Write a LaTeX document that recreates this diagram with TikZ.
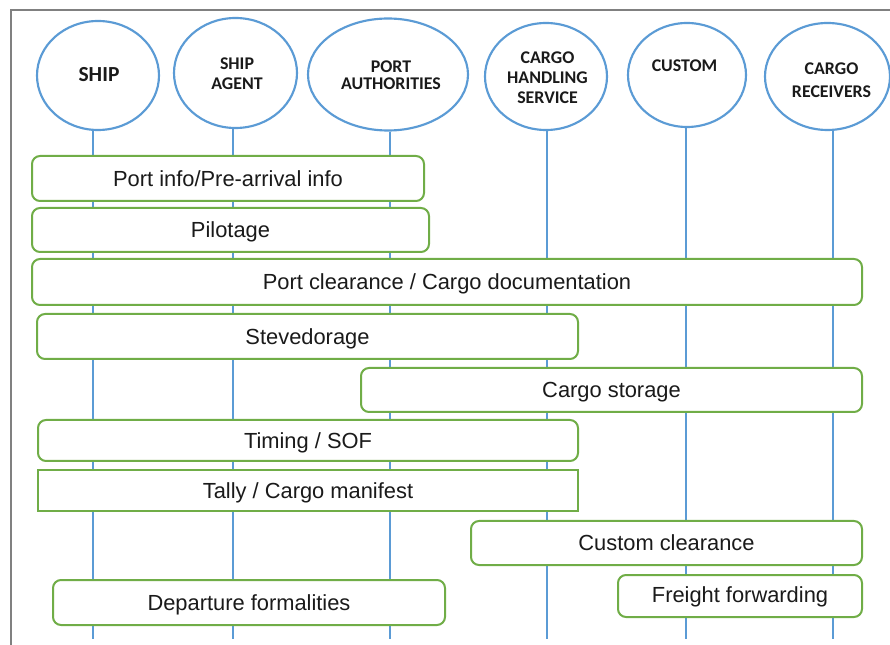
\documentclass[tikz,border=0pt]{standalone}
\usepackage{fontspec}
\setmainfont{Liberation Sans}
\newfontfamily\headfont{Carlito}
\usetikzlibrary{shapes.geometric}
\definecolor{laneblue}{HTML}{5B9BD5}
\definecolor{boxgreen}{HTML}{70AD47}
\definecolor{framegray}{HTML}{808080}
\definecolor{inkblack}{HTML}{1A1A1A}

\begin{document}
\begin{tikzpicture}[x=0.75pt,y=-0.75pt,
  actor/.style={draw=laneblue, line width=1.6pt, ellipse, inner sep=0pt, fill=white},
  actorlabel/.style={font=\headfont\bfseries\fontsize{13.4}{14.6}\selectfont,
    align=center, inner sep=0pt, text=inkblack},
  lane/.style={draw=laneblue, line width=2.2pt},
  task/.style={draw=boxgreen, line width=1.5pt, rounded corners=6pt, fill=white,
    font=\fontsize{16.4}{19}\selectfont, text=inkblack, inner sep=0pt,
    text height=11.8pt, text depth=0pt},
]
\useasboundingbox (0,0) rectangle (890,645);

% frame
\draw[framegray, line width=1.1pt] (11,645) -- (11,10) -- (890,10);

% actors
\node[actor, minimum width=91.5pt, minimum height=81.75pt] (ship) at (98,75.5) {};
\node[actor, minimum width=92.25pt, minimum height=82.5pt] (agent) at (235.5,73) {};
\node[actor, minimum width=120pt, minimum height=84pt] (port) at (388,74.5) {};
\node[actor, minimum width=91.5pt, minimum height=80.25pt] (handling) at (546,76.5) {};
\node[actor, minimum width=88.5pt, minimum height=78pt] (custom) at (687,75) {};
\node[actor, minimum width=93.75pt, minimum height=80.25pt] (receivers) at (827.5,76.5) {};

% lifelines
\coordinate (shipend) at (93,639);
\coordinate (agentend) at (233,639);
\coordinate (portend) at (390,639);
\coordinate (handlingend) at (547,639);
\coordinate (customend) at (686,639);
\coordinate (receiversend) at (833,639);
\draw[lane] (ship.south -| shipend) -- (shipend);
\draw[lane] (agent.south -| agentend) -- (agentend);
\draw[lane] (port.south -| portend) -- (portend);
\draw[lane] (handling.south -| handlingend) -- (handlingend);
\draw[lane] (custom.south -| customend) -- (customend);
\draw[lane] (receivers.south -| receiversend) -- (receiversend);

% actor names
\node[actorlabel, font=\headfont\bfseries\fontsize{16.1}{18}\selectfont] (shiplbl) at (99,74.5) {SHIP};
\node[actorlabel] (agentlbl) at (237,73.75) {SHIP\\AGENT};
\node[actorlabel, font=\headfont\bfseries\fontsize{13.4}{12.6}\selectfont] (portlbl) at (391,75.25) {PORT\\AUTHORITIES};
\node[actorlabel, font=\headfont\bfseries\fontsize{13.4}{15}\selectfont] (handlinglbl) at (547.5,78) {CARGO\\HANDLING\\SERVICE};
\node[actorlabel] (customlbl) at (684.5,66) {CUSTOM};
\node[actorlabel, font=\headfont\bfseries\fontsize{13.4}{17.6}\selectfont] (receiverslbl) at (831.5,80) {CARGO\\RECEIVERS};

% activities
\node[task, minimum width=294pt, minimum height=33.75pt] (info) at (228,178.5) {Port info/Pre-arrival info};
\node[task, minimum width=297.75pt, minimum height=33pt] (pilot) at (230.5,230) {Pilotage};
\node[task, minimum width=622.5pt, minimum height=34.5pt] (clear) at (447,282) {Port clearance / Cargo documentation};
\node[task, minimum width=405.75pt, minimum height=33.75pt] (steve) at (307.5,336.5) {Stevedorage};
\node[task, minimum width=375.75pt, minimum height=33pt] (storage) at (611.5,390) {Cargo storage};
\node[task, minimum width=405pt, minimum height=30.75pt] (timing) at (308,440.5) {Timing / SOF};
\node[task, rounded corners=0pt, minimum width=405pt, minimum height=30.75pt] (tally) at (308,490.5) {Tally / Cargo manifest};
\node[task, minimum width=293.25pt, minimum height=33pt] (customs) at (666.5,543) {Custom clearance};
\node[task, minimum width=183pt, minimum height=31.5pt, text depth=2.25pt] (freight) at (740,596) {Freight forwarding};
\node[task, minimum width=294pt, minimum height=33.75pt] (depart) at (249,602.5) {Departure formalities};

\end{tikzpicture}
\end{document}
